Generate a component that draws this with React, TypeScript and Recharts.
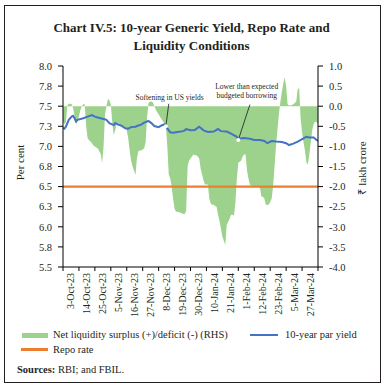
import React from 'react';
import {
  ComposedChart,
  Area,
  Line,
  XAxis,
  YAxis,
  ReferenceLine,
  ReferenceDot,
  Label,
} from 'recharts';

const FONT = '"Liberation Serif", "Times New Roman", serif';
const INK = '#231f20';
const GREEN = '#9dd28c';
const BLUE = '#4472c4';
const ORANGE = '#ed7d31';

// x-axis: day index 0..176, 16 label intervals of 11 days
const tickDays = [0, 11, 22, 33, 44, 55, 66, 77, 88, 99, 110, 121, 132, 143, 154, 165, 176];
const tickLabels = [
  '3-Oct-23', '14-Oct-23', '25-Oct-23', '5-Nov-23', '16-Nov-23', '27-Nov-23', '8-Dec-23',
  '19-Dec-23', '30-Dec-23', '10-Jan-24', '21-Jan-24', '1-Feb-24', '12-Feb-24', '23-Feb-24',
  '5-Mar-24', '27-Mar-24',
];
const leftTicks = [5.5, 5.75, 6.0, 6.25, 6.5, 6.75, 7.0, 7.25, 7.5, 7.75, 8.0];
const rightTicks = [-4, -3.5, -3, -2.5, -2, -1.5, -1, -0.5, 0, 0.5, 1];

// Net liquidity surplus (+)/deficit (-), ₹ lakh crore, one value per day index
const liquidity = [
  -0.38, -0.45, -0.40, 0.02, 0.06, 0.06, 0.05, -0.05, -0.25, -0.45,
  -0.38, -0.25, -0.10, 0.0, 0.05, 0.05, -0.5, -0.8, -0.85, -0.88,
  -0.92, -0.98, -1.0, -1.03, -1.05, -1.12, -1.18, -1.42, -1.0, -0.2,
  0.0, 0.18, 0.15, 0.05, -0.4, -0.72, -0.6, -0.42, -0.45, -0.48,
  -0.5, -0.5, -0.52, -0.55, -0.6, -0.8, -1.1, -1.35, -1.5, -1.6,
  -1.72, -1.3, -1.12, -1.1, -1.1, -1.08, -1.05, -0.9, -0.3, 0.08,
  0.12, 0.12, 0.1, 0.0, -0.08, -0.15, -0.2, -0.27, -0.32, -0.38,
  -0.42, -0.48, -1.0, -1.7, -1.8, -2.0, -2.3, -2.55, -2.62, -2.63,
  -2.63, -2.65, -2.66, -2.68, -2.68, -2.6, -1.5, -1.35, -1.3, -1.25,
  -1.2, -1.22, -1.22, -1.25, -1.3, -1.55, -1.7, -1.85, -1.95, -1.95,
  -1.95, -2.3, -2.42, -2.45, -2.45, -2.48, -2.5, -2.7, -2.85, -3.05,
  -3.25, -3.35, -3.45, -2.95, -2.88, -2.8, -2.7, -2.7, -2.72, -2.4,
  -1.8, -1.4, -1.38, -1.35, -1.25, -1.2, -1.2, -1.6, -1.8, -1.95,
  -1.98, -2.0, -2.0, -2.0, -2.02, -2.0, -2.05, -2.25, -2.25, -2.3,
  -2.45, -2.45, -2.45, -2.38, -2.3, -2.0, -1.5, -1.0, -0.6, -0.2,
  0.1, 0.35, 0.55, 0.72, 0.5, 0.05, 0.02, 0.02, 0.03, 0.05,
  0.08, 0.12, 0.42, 0.45, -0.3, -0.65, -0.9, -1.1, -1.4, -1.45,
  -1.2, -0.9, -0.6, -0.45, -0.38, -0.4, -0.45,
];

// 10-year par yield, per cent
const yieldDays = [
  0, 1, 2, 4, 6, 7, 8, 9, 10, 14, 17, 20, 22, 24, 28, 30, 32, 35, 36, 38, 40, 43, 45, 47, 50,
  52, 54, 56, 59, 61, 63, 66, 68, 70, 71, 72, 74, 76, 79, 83, 84, 85, 88, 91, 94, 97, 100, 104,
  107, 109, 113, 116, 120, 121, 122, 125, 129, 132, 136, 139, 141, 144, 147, 151, 154, 156,
  159, 162, 166, 168, 170, 173, 175, 176,
];
const yieldValues = [
  7.23, 7.22, 7.245, 7.33, 7.37, 7.38, 7.35, 7.31, 7.33, 7.35, 7.37, 7.39, 7.37, 7.36, 7.34,
  7.33, 7.29, 7.265, 7.29, 7.27, 7.26, 7.225, 7.22, 7.24, 7.245, 7.26, 7.27, 7.295, 7.316,
  7.29, 7.254, 7.24, 7.26, 7.275, 7.25, 7.225, 7.175, 7.17, 7.18, 7.19, 7.2, 7.215, 7.2,
  7.205, 7.245, 7.2, 7.18, 7.185, 7.216, 7.19, 7.185, 7.16, 7.12, 7.08, 7.1, 7.105, 7.095,
  7.08, 7.08, 7.067, 7.04, 7.067, 7.06, 7.055, 7.04, 7.017, 7.035, 7.06, 7.1, 7.12, 7.11,
  7.11, 7.08, 7.07,
];

const repoRate = 6.5;

// annotations (day, yield-axis value)
const annotations = [
  { lines: ['Softening in US yields'], textX: 73.6, textY: 7.614, fromX: 73, fromY: 7.53, toX: 71, toY: 7.25 },
  { lines: ['Lower than expected', 'budgeted borrowing'], textX: 126.8, textY: 7.689, fromX: 129, fromY: 7.52, toX: 121, toY: 7.08 },
];

const yieldMap = new Map<number, number>();
yieldDays.forEach((d, i) => yieldMap.set(d, yieldValues[i]));

const data = liquidity.map((v, i) => ({
  day: i,
  liq: v,
  yld: yieldMap.has(i) ? yieldMap.get(i) : null,
  repo: repoRate,
}));

const CHART_W = 384;
const LEFT_W = 63;
const RIGHT_W = 66;
const PLOT_W = CHART_W - LEFT_W - RIGHT_W;

function XTick(props: any) {
  const { x, y, payload } = props;
  const idx = tickDays.indexOf(payload.value);
  if (idx < 0 || idx >= tickLabels.length) return null;
  const half = PLOT_W / tickLabels.length / 2;
  return (
    <text
      transform={`translate(${x + half},${y}) rotate(-90)`}
      textAnchor="end"
      dy="0.35em"
      fontSize={10}
      fontFamily={FONT}
      fill={INK}
    >
      {tickLabels[idx]}
    </text>
  );
}

function AnnotText(props: any) {
  const { viewBox, lines } = props;
  const cx = viewBox.x + viewBox.width / 2;
  const cy = viewBox.y + viewBox.height / 2;
  const lh = 8.5;
  const top = cy - ((lines.length - 1) * lh) / 2;
  return (
    <text textAnchor="middle" fontSize={7.5} fontFamily={FONT} fill={INK}>
      {lines.map((l: string, i: number) => (
        <tspan key={i} x={cx} y={top + i * lh} dy="0.35em">
          {l}
        </tspan>
      ))}
    </text>
  );
}

function AxisTitle(props: any) {
  const { viewBox, value, dxFromLeft, dyOff } = props;
  const x = viewBox.x + dxFromLeft;
  const y = viewBox.y + viewBox.height / 2 + dyOff;
  return (
    <text
      transform={`translate(${x},${y}) rotate(-90)`}
      textAnchor="middle"
      dy="0.35em"
      fontSize={11}
      fontFamily={FONT}
      fill={INK}
    >
      {value}
    </text>
  );
}

const txt: React.CSSProperties = {
  position: 'absolute',
  fontFamily: FONT,
  fontSize: 10.5,
  lineHeight: '12px',
  color: INK,
  whiteSpace: 'nowrap',
};

export default function App() {
  return (
    <div
      style={{
        position: 'absolute',
        left: 0,
        top: 0,
        width: 384,
        height: 387,
        background: '#fff',
        overflow: 'hidden',
      }}
    >
      <div
        style={{
          position: 'absolute',
          left: 4,
          top: 5,
          width: 375,
          height: 376,
          border: '1.3px solid #231f20',
        }}
      />
      <div
        style={{
          position: 'absolute',
          left: 0,
          top: 19,
          width: 383,
          textAlign: 'center',
          fontFamily: FONT,
          fontWeight: 'bold',
          fontSize: 13,
          lineHeight: '18px',
          color: INK,
        }}
      >
        Chart IV.5: 10-year Generic Yield, Repo Rate and
        <br />
        Liquidity Conditions
      </div>

      <div style={{ position: 'absolute', left: 0, top: 0 }}>
        <ComposedChart
          width={CHART_W}
          height={330}
          data={data}
          margin={{ top: 66, right: 0, bottom: 8, left: 0 }}
        >
          <XAxis
            type="number"
            dataKey="day"
            domain={[0, 176]}
            ticks={tickDays}
            interval={0}
            tick={<XTick />}
            tickSize={4}
            tickLine={{ stroke: '#000' }}
            axisLine={{ stroke: '#000' }}
            height={55}
            allowDataOverflow
          />
          <YAxis
            yAxisId="left"
            orientation="left"
            type="number"
            domain={[5.5, 8]}
            ticks={leftTicks}
            interval={0}
            tickFormatter={(v: number) => v.toFixed(1)}
            width={LEFT_W}
            tickSize={5}
            tickMargin={6}
            tick={{ fill: INK, fontSize: 10.5, fontFamily: FONT }}
            axisLine={{ stroke: '#000' }}
            tickLine={{ stroke: '#000' }}
            allowDataOverflow
          >
            <Label content={<AxisTitle value="Per cent" dxFromLeft={20.5} dyOff={-4} />} />
          </YAxis>
          <YAxis
            yAxisId="right"
            orientation="right"
            type="number"
            domain={[-4, 1]}
            ticks={rightTicks}
            interval={0}
            tickFormatter={(v: number) => v.toFixed(1)}
            width={RIGHT_W}
            tickSize={5}
            tickMargin={6}
            tick={{ fill: INK, fontSize: 10.5, fontFamily: FONT }}
            axisLine={{ stroke: '#000' }}
            tickLine={{ stroke: '#000' }}
            allowDataOverflow
          >
            <Label content={<AxisTitle value="₹ lakh crore" dxFromLeft={44.5} dyOff={1.5} />} />
          </YAxis>

          <Area
            yAxisId="right"
            type="linear"
            dataKey="liq"
            baseValue={0}
            stroke="none"
            fill={GREEN}
            fillOpacity={1}
            isAnimationActive={false}
            dot={false}
            activeDot={false}
          />
          <Line
            yAxisId="left"
            type="linear"
            dataKey="repo"
            stroke={ORANGE}
            strokeWidth={2.2}
            dot={false}
            activeDot={false}
            isAnimationActive={false}
          />
          <Line
            yAxisId="left"
            type="linear"
            dataKey="yld"
            stroke={BLUE}
            strokeWidth={2}
            dot={false}
            activeDot={false}
            connectNulls
            isAnimationActive={false}
          />

          {annotations.map((a, i) => (
            <ReferenceLine
              key={'l' + i}
              yAxisId="left"
              segment={[
                { x: a.fromX, y: a.fromY },
                { x: a.toX, y: a.toY },
              ]}
              stroke="#1a1a1a"
              strokeWidth={0.8}
            />
          ))}
          {annotations.map((a, i) => (
            <ReferenceDot
              key={'m' + i}
              yAxisId="left"
              x={a.toX}
              y={a.toY}
              r={2}
              fill="#fff"
              stroke="none"
            />
          ))}
          {annotations.map((a, i) => (
            <ReferenceDot
              key={'t' + i}
              yAxisId="left"
              x={a.textX}
              y={a.textY}
              r={1}
              fill="none"
              stroke="none"
              label={<AnnotText lines={a.lines} />}
            />
          ))}
        </ComposedChart>
      </div>

      {/* Legend */}
      <div style={{ position: 'absolute', left: 22, top: 332.5, width: 26, height: 5, background: GREEN }} />
      <div style={{ ...txt, left: 53, top: 329 }}>Net liquidity surplus (+)/deficit (-) (RHS)</div>
      <div style={{ position: 'absolute', left: 250, top: 333.8, width: 28, height: 2.5, background: BLUE }} />
      <div style={{ ...txt, left: 285, top: 329 }}>10-year par yield</div>
      <div style={{ position: 'absolute', left: 21, top: 348, width: 27, height: 2.5, background: ORANGE }} />
      <div style={{ ...txt, left: 53, top: 344 }}>Repo rate</div>
      <div style={{ ...txt, left: 17, top: 364 }}>
        <b>Sources:</b> RBI; and FBIL.
      </div>
    </div>
  );
}
